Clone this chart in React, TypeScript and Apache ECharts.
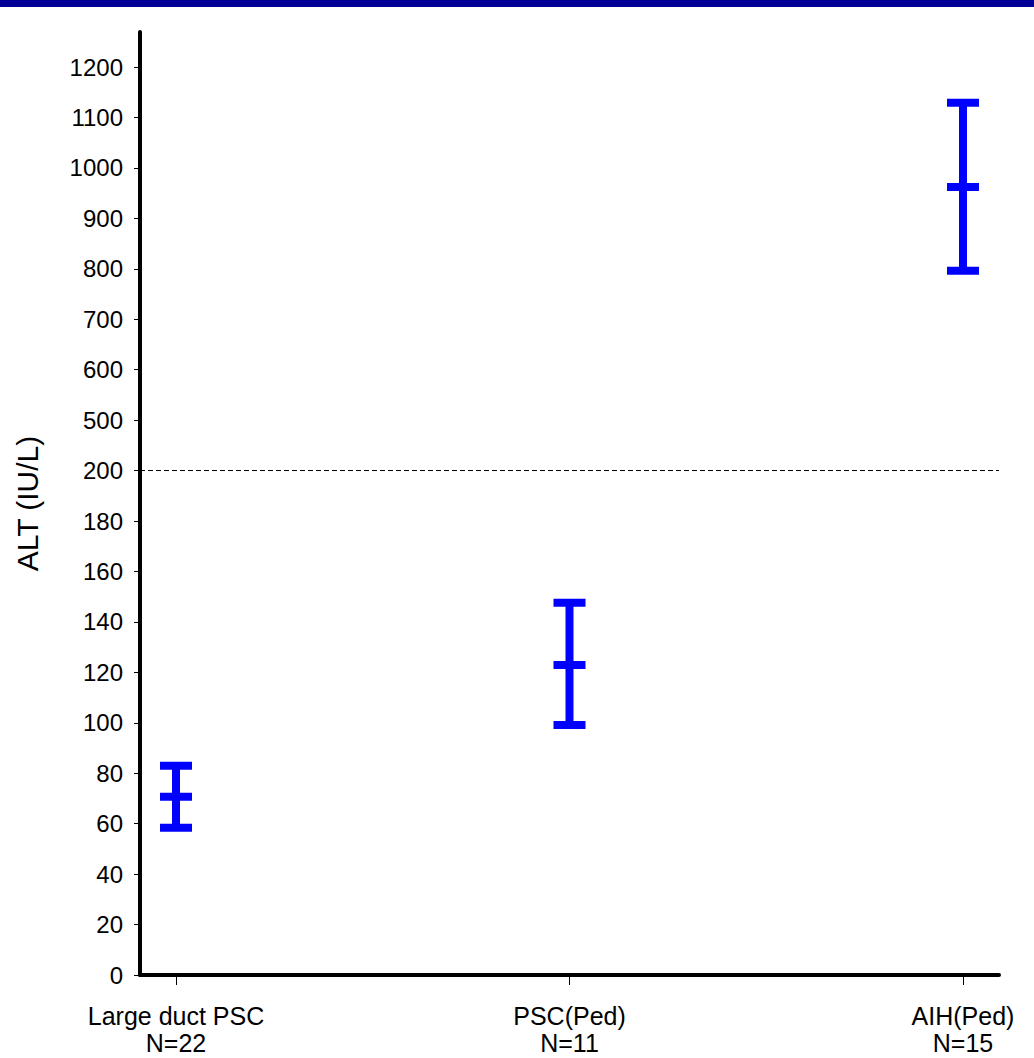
import React, { useEffect, useRef } from "react";
import * as echarts from "echarts";

const categories = ["Large duct PSC\nN=22", "PSC(Ped)\nN=11", "AIH(Ped)\nN=15"];
const lowValues = [58.4, 99.1, 796];
const meanValues = [70.7, 122.9, 962];
const highValues = [83.0, 147.6, 1129];
const referenceLine = 200;
const yTickValues = [0, 20, 40, 60, 80, 100, 120, 140, 160, 180, 200, 500, 600, 700, 800, 900, 1000, 1100, 1200];

// broken axis: 0..200 linear (20 per tick), then 500..1200 (100 per tick)
const toVirtual = (v: number) => (v <= 200 ? v : 220 + (v - 500) / 5);
const fromVirtual = (v: number) => (v <= 200 ? v : 500 + (v - 220) * 5);

const FONT = "'Liberation Sans', Arial, sans-serif";

export default function App() {
  const ref = useRef<HTMLDivElement>(null);
  useEffect(() => {
    if (!ref.current) return;
    const chart = echarts.init(ref.current, null, { renderer: "svg" });
    const data = categories.map((_, i) => [i, toVirtual(lowValues[i]), toVirtual(meanValues[i]), toVirtual(highValues[i])]);
    const yVirtualTicks = yTickValues.map(toVirtual);
    chart.setOption({
      animation: false,
      backgroundColor: "#ffffff",
      graphic: [
        { type: "rect", left: 0, top: 0, shape: { width: 1034, height: 7 }, style: { fill: "#000096" } },
      ],
      grid: { left: 140, right: 35, top: 32, bottom: 83, containLabel: false, outerBoundsMode: "none" },
      xAxis: {
        type: "value",
        min: -0.0915,
        max: 2.0915,
        splitLine: { show: false },
        axisLine: { show: true, onZero: false, lineStyle: { color: "#000", width: 4 } },
        axisTick: { show: true, customValues: [0, 1, 2], length: 10, lineStyle: { color: "#000", width: 1 } },
        axisLabel: {
          customValues: [0, 1, 2],
          formatter: (v: number) => categories[Math.round(v)] ?? "",
          color: "#000",
          fontFamily: FONT,
          fontSize: 25,
          lineHeight: 27,
          margin: 27,
        },
      },
      yAxis: {
        type: "value",
        min: 0,
        max: 373.9,
        name: "ALT (IU/L)",
        nameLocation: "middle",
        nameGap: 98,
        nameTextStyle: { color: "#000", fontFamily: FONT, fontSize: 30 },
        splitLine: { show: false },
        axisLine: { show: true, onZero: false, lineStyle: { color: "#000", width: 4 } },
        axisTick: { show: true, customValues: yVirtualTicks, length: 6, lineStyle: { color: "#000", width: 1 } },
        axisLabel: {
          customValues: yVirtualTicks,
          formatter: (v: number) => String(Math.round(fromVirtual(v))),
          color: "#000",
          fontFamily: FONT,
          fontSize: 24,
          margin: 17,
        },
      },
      series: [
        {
          type: "custom",
          data,
          encode: { x: 0, y: [1, 2, 3] },
          renderItem: (params: any, api: any) => {
            const x = api.value(0);
            const lo = api.coord([x, api.value(1)]);
            const mid = api.coord([x, api.value(2)]);
            const hi = api.coord([x, api.value(3)]);
            const capW = 32;
            const lw = 8;
            const style = { fill: "#0000ff" };
            return {
              type: "group",
              children: [
                { type: "rect", shape: { x: lo[0] - lw / 2, y: hi[1], width: lw, height: lo[1] - hi[1] }, style },
                { type: "rect", shape: { x: hi[0] - capW / 2, y: hi[1] - lw / 2, width: capW, height: lw }, style },
                { type: "rect", shape: { x: mid[0] - capW / 2, y: mid[1] - lw / 2, width: capW, height: lw }, style },
                { type: "rect", shape: { x: lo[0] - capW / 2, y: lo[1] - lw / 2, width: capW, height: lw }, style },
              ],
            };
          },
          markLine: {
            silent: true,
            symbol: "none",
            label: { show: false },
            lineStyle: { color: "#000", width: 1, type: [5, 3] },
            data: [{ yAxis: toVirtual(referenceLine) }],
          },
        },
      ],
    });
    return () => chart.dispose();
  }, []);
  return <div ref={ref} style={{ position: "fixed", left: 0, top: 0, width: 1034, height: 1058 }} />;
}
